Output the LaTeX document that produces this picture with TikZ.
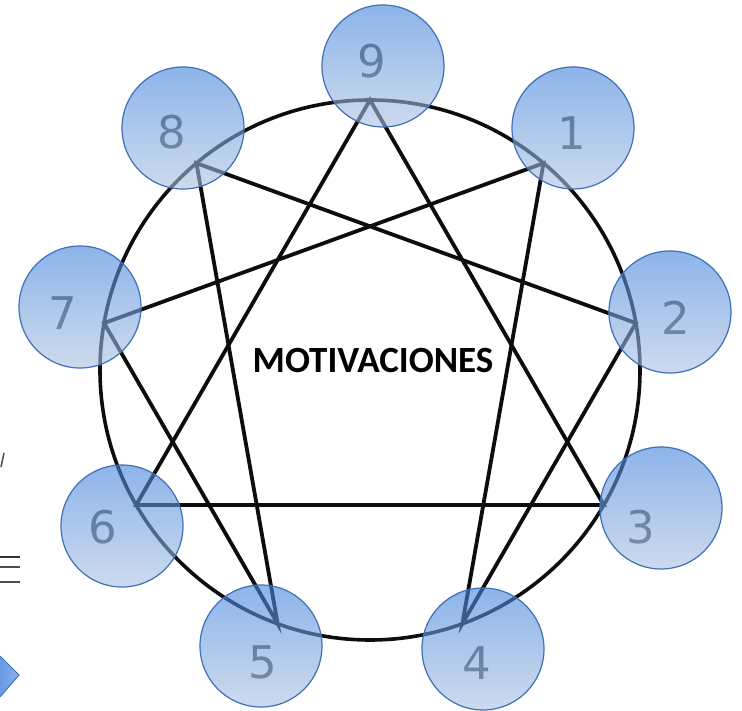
\documentclass[tikz,border=0pt]{standalone}
\usepackage{fontspec}
\setmainfont{Carlito}
\newfontfamily\digitfont{DejaVu Sans}
\definecolor{discTop}{RGB}{65,130,220}
\definecolor{discMid}{RGB}{44,102,185}
\definecolor{discBottom}{RGB}{172,194,226}
\definecolor{discEdge}{RGB}{62,112,184}
\tikzset{
  disc/.style = {circle, minimum size=#1, inner sep=0pt, outer sep=0pt,
                 draw=discEdge, line width=1.2pt,
                 top color=discTop, middle color=discMid, bottom color=discBottom,
                 fill opacity=0.6},
  disc/.default = 122pt,
  digit/.style = {font=\digitfont\fontsize{45}{45}\selectfont, text=black!70, inner sep=0pt},
  star/.style = {black!95, line width=3.8pt, line join=miter}
}

\begin{document}
\begin{tikzpicture}[x=1pt, y=1pt]
	\def \R{270}
	\useasboundingbox (-370,-341) rectangle (372,370);

	% Circle
	\draw[black!95, line width=3.6pt] (0,0) circle (\R);

	% Points
	\coordinate (v9) at (90:\R);
	\coordinate (v1) at (50:\R);
	\coordinate (v2) at (10:\R);
	\coordinate (v3) at (-30:\R);
	\coordinate (v4) at (-70:\R);
	\coordinate (v5) at (-110:\R);
	\coordinate (v6) at (-150:\R);
	\coordinate (v7) at (170:\R);
	\coordinate (v8) at (130:\R);

	% Triangle 9-3-6
	\draw[star] (v9) -- (v3) -- (v6) -- cycle;
	% Hexad 1-4-2-8-5-7
	\draw[star] (v1) -- (v4) -- (v2) -- (v8) -- (v5) -- (v7) -- cycle;

	% Numbers
	\node[digit] (d9) at (2,309)     {9};
	\node[digit] (d1) at (202,237)   {1};
	\node[digit] (d2) at (306,52)    {2};
	\node[digit] (d3) at (271,-157)  {3};
	\node[digit] (d4) at (107,-293)  {4};
	\node[digit] (d5) at (-107,-292) {5};
	\node[digit] (d6) at (-267,-157) {6};
	\node[digit] (d7) at (-307,57)   {7};
	\node[digit] (d8) at (-198,238)  {8};

	% Blue discs
	\node[disc] (b9) at (13,304)    {};
	\node[disc] (b1) at (203,242)   {};
	\node[disc] (b2) at (300,58)    {};
	\node[disc] (b3) at (291,-138)  {};
	\node[disc] (b4) at (113,-279)  {};
	\node[disc] (b5) at (-109,-276) {};
	\node[disc] (b6) at (-248,-156) {};
	\node[disc] (b7) at (-290,63)   {};
	\node[disc] (b8) at (-187,242)  {};

	% Title
	\node[font=\bfseries\fontsize{37}{37}\selectfont] (title) at (3,10) {MOTIVACIONES};

	% Left edge pieces
	\draw[black!70, line width=1.5pt] (-366,-83) -- (-369,-97);
	\draw[black!80, line width=2.5pt] (-370,-187) -- (-350,-187);
	\draw[black!70, line width=1.5pt] (-370,-197) -- (-350,-197);
	\draw[black!70, line width=1.5pt] (-370,-212) -- (-350,-212);
	\draw[discEdge, line width=1pt, left color=discTop!80!white, right color=discTop!60!white]
		(-370,-286) -- (-351,-305) -- (-370,-327);
\end{tikzpicture}
\end{document}
